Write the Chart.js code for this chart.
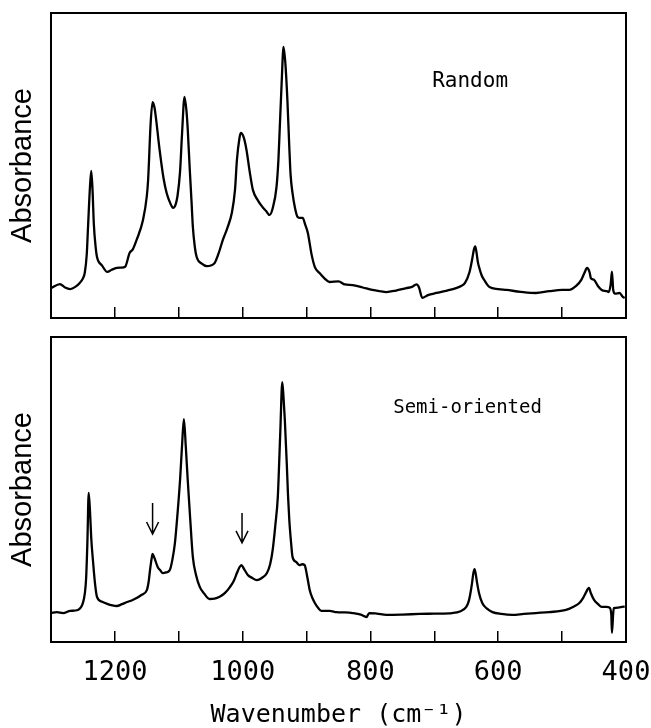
<!DOCTYPE html>
<html>
<head>
<meta charset="utf-8">
<script src="https://cdn.jsdelivr.net/npm/chart.js@4"></script>
<style>
  html, body { margin: 0; padding: 0; background: #fff; }
  #top { position: absolute; left: 0; top: 0; width: 651px; height: 330px; }
  #bottom { position: absolute; left: 0; top: 330px; width: 651px; height: 398px; }
</style>
</head>
<body>
<div id="top"><canvas id="grafica_random"></canvas></div>
<div id="bottom"><canvas id="grafica_semi"></canvas></div>
<script>
// espectro "Random"
const randomWn = [1300,1286,1278,1270,1262,1255,1250,1247,1244,1242,1239,1237,1235,1233,1230,1228,1220,1212,1205,1197,1190,1184,1177,1172,1166,1156,1150,1148,1144,1141,1138,1136,1130,1124,1119,1113,1109,1105,1102,1098,1095,1091,1088,1086,1083,1080,1078,1075,1072,1064,1056,1050,1044,1038,1031,1024,1017,1012,1009,1005,1003,998,994,989,984,976,969,963,958,953,947,944,942,939,936,933,930,927,925,922,918,914,910,906,902,898,892,887,880,872,864,850,840,828,812,797,786,775,760,744,735,728,724,719,710,697,680,666,658,652,645,641,638,636,634,632,630,626,622,614,600,587,565,541,520,500,489,478,470,465,461,457,455,450,444,438,430,427,424,422,420,417,410,405,402];
const randomAbs = [0.098,0.111,0.100,0.095,0.102,0.115,0.130,0.150,0.210,0.300,0.430,0.482,0.420,0.310,0.230,0.200,0.172,0.151,0.158,0.164,0.165,0.168,0.213,0.225,0.256,0.321,0.400,0.452,0.640,0.708,0.690,0.660,0.551,0.460,0.410,0.375,0.361,0.372,0.400,0.480,0.600,0.725,0.680,0.620,0.495,0.380,0.300,0.235,0.200,0.178,0.170,0.172,0.180,0.210,0.256,0.295,0.344,0.420,0.518,0.590,0.607,0.590,0.551,0.480,0.420,0.385,0.364,0.350,0.338,0.360,0.430,0.520,0.620,0.770,0.889,0.830,0.715,0.560,0.470,0.410,0.360,0.331,0.328,0.328,0.305,0.279,0.207,0.167,0.148,0.130,0.118,0.120,0.110,0.108,0.100,0.092,0.088,0.085,0.090,0.098,0.102,0.110,0.100,0.066,0.075,0.082,0.090,0.098,0.105,0.115,0.150,0.190,0.225,0.235,0.215,0.185,0.167,0.140,0.125,0.102,0.095,0.092,0.086,0.082,0.088,0.092,0.092,0.105,0.125,0.148,0.164,0.150,0.131,0.125,0.105,0.092,0.088,0.085,0.110,0.152,0.092,0.080,0.082,0.069,0.066];

// espectro "Semi-oriented"
const semiWn = [1300,1291,1281,1270,1258,1250,1247,1245,1243,1241,1239,1237,1234,1231,1228,1220,1212,1204,1197,1189,1181,1173,1166,1158,1150,1147,1145,1142,1141,1138,1133,1129,1125,1120,1114,1110,1106,1102,1098,1095,1092,1089,1086,1082,1078,1073,1067,1060,1052,1044,1036,1028,1020,1014,1009,1005,1002,998,992,985,978,970,962,957,953,949,945,943,941,938,936,934,931,929,927,924,922,916,911,907,903,899,895,891,887,882,877,864,853,840,828,815,806,802,790,775,750,723,700,672,660,650,646,644,641,639,637,635,633,630,625,618,609,595,578,560,541,520,494,483,473,467,463,458,455,450,444,438,430,426,423,422,420,419,412,406,402];
const semiAbs = [0.095,0.098,0.095,0.102,0.105,0.128,0.160,0.210,0.330,0.489,0.430,0.340,0.259,0.190,0.148,0.132,0.125,0.120,0.118,0.124,0.131,0.137,0.144,0.155,0.170,0.200,0.236,0.280,0.289,0.275,0.246,0.235,0.226,0.228,0.236,0.270,0.325,0.420,0.531,0.640,0.731,0.640,0.531,0.400,0.279,0.220,0.180,0.158,0.141,0.142,0.148,0.160,0.180,0.200,0.226,0.245,0.252,0.240,0.220,0.210,0.203,0.210,0.226,0.255,0.302,0.380,0.475,0.580,0.695,0.852,0.800,0.728,0.587,0.480,0.400,0.320,0.279,0.262,0.252,0.255,0.252,0.215,0.170,0.145,0.128,0.112,0.102,0.102,0.098,0.097,0.095,0.090,0.082,0.095,0.093,0.089,0.090,0.092,0.093,0.095,0.100,0.115,0.135,0.154,0.193,0.225,0.239,0.220,0.193,0.160,0.128,0.110,0.098,0.092,0.089,0.092,0.095,0.098,0.105,0.115,0.128,0.145,0.161,0.177,0.160,0.138,0.125,0.115,0.115,0.113,0.090,0.030,0.095,0.111,0.113,0.115,0.116];

const etiquetasPanel = ["Random", "Semi-oriented"];
// flechas del panel inferior: número de onda, inicio y fin (absorbancia)
const flechasWn = [1141, 1001];
const flechasDesde = [0.456, 0.423];
const flechasHasta = [0.354, 0.325];

const ejeX = { min: 400, max: 1300, paso: 100, etiqueta: 200 };

function unirPuntos(xs, ys) {
  return xs.map((x, i) => ({ x: x, y: ys[i] }));
}

const marco = {
  id: "marco",
  afterDraw(chart, args, opts) {
    const { ctx, chartArea: a, scales } = chart;
    ctx.save();
    ctx.strokeStyle = "#000";
    ctx.lineWidth = 2;
    ctx.strokeRect(a.left, a.top, a.right - a.left, a.bottom - a.top);
    ctx.fillStyle = "#000";
    ctx.font = opts.fuente;
    ctx.textAlign = "center";
    ctx.textBaseline = "middle";
    ctx.fillText(opts.texto, scales.x.getPixelForValue(opts.tx), scales.y.getPixelForValue(opts.ty));
    ctx.lineWidth = 1.5;
    (opts.flechas || []).forEach(f => {
      const x = scales.x.getPixelForValue(f.wn);
      const y1 = scales.y.getPixelForValue(f.desde);
      const y2 = scales.y.getPixelForValue(f.hasta);
      ctx.beginPath();
      ctx.moveTo(x, y1);
      ctx.lineTo(x, y2);
      ctx.moveTo(x - 6, y2 - 12);
      ctx.lineTo(x, y2);
      ctx.lineTo(x + 6, y2 - 12);
      ctx.stroke();
    });
    ctx.restore();
  }
};

function crearGrafica(id, wn, abs, conEtiquetas, panel) {
  const ctx = document.getElementById(id).getContext("2d");
  return new Chart(ctx, {
    type: "line",
    data: {
      datasets: [{
        data: unirPuntos(wn, abs),
        borderColor: "#000",
        borderWidth: 2.3,
        pointRadius: 0,
        cubicInterpolationMode: "monotone",
        fill: false,
      }],
    },
    options: {
      responsive: true,
      maintainAspectRatio: false,
      animation: false,
      events: [],
      layout: { padding: { left: 0, right: 25, top: conEtiquetas ? 7 : 13, bottom: 0 } },
      scales: {
        x: {
          type: "linear",
          reverse: true,
          min: ejeX.min,
          max: ejeX.max,
          border: { display: false },
          grid: { drawOnChartArea: false, drawTicks: true, tickLength: -11, color: "#000", lineWidth: 1.5 },
          ticks: {
            stepSize: ejeX.paso,
            autoSkip: false,
            maxRotation: 0,
            padding: 26,
            color: "#000",
            font: { family: "DejaVu Sans Mono", size: 27 },
            callback: v => (conEtiquetas && v % ejeX.etiqueta === 0) ? String(v) : "",
          },
          title: {
            display: conEtiquetas,
            text: "Wavenumber (cm⁻¹)",
            color: "#000",
            font: { family: "DejaVu Sans Mono", size: 25, lineHeight: 1 },
            padding: { top: 0, bottom: 0 },
          },
          afterFit: s => {
            s.height = conEtiquetas ? 86 : 12;
            s.paddingLeft = 0;
            s.paddingRight = 0;
          },
        },
        y: {
          min: 0,
          max: 1,
          border: { display: false },
          grid: { display: false },
          ticks: { display: false },
          title: {
            display: true,
            text: "Absorbance",
            color: "#000",
            font: { family: "Liberation Sans", size: 29 },
            padding: { top: 6, bottom: 0 },
          },
          afterFit: s => { s.width = 51; },
        },
      },
      plugins: {
        legend: { display: false },
        tooltip: { enabled: false },
        marco: panel,
      },
    },
    plugins: [marco],
  });
}

crearGrafica("grafica_random", randomWn, randomAbs, false, {
  texto: etiquetasPanel[0],
  fuente: "21px 'DejaVu Sans Mono'",
  tx: 644, ty: 0.774,
  flechas: [],
});

crearGrafica("grafica_semi", semiWn, semiAbs, true, {
  texto: etiquetasPanel[1],
  fuente: "19px 'DejaVu Sans Mono'",
  tx: 648, ty: 0.767,
  flechas: flechasWn.map((w, i) => ({ wn: w, desde: flechasDesde[i], hasta: flechasHasta[i] })),
});
</script>
</body>
</html>
